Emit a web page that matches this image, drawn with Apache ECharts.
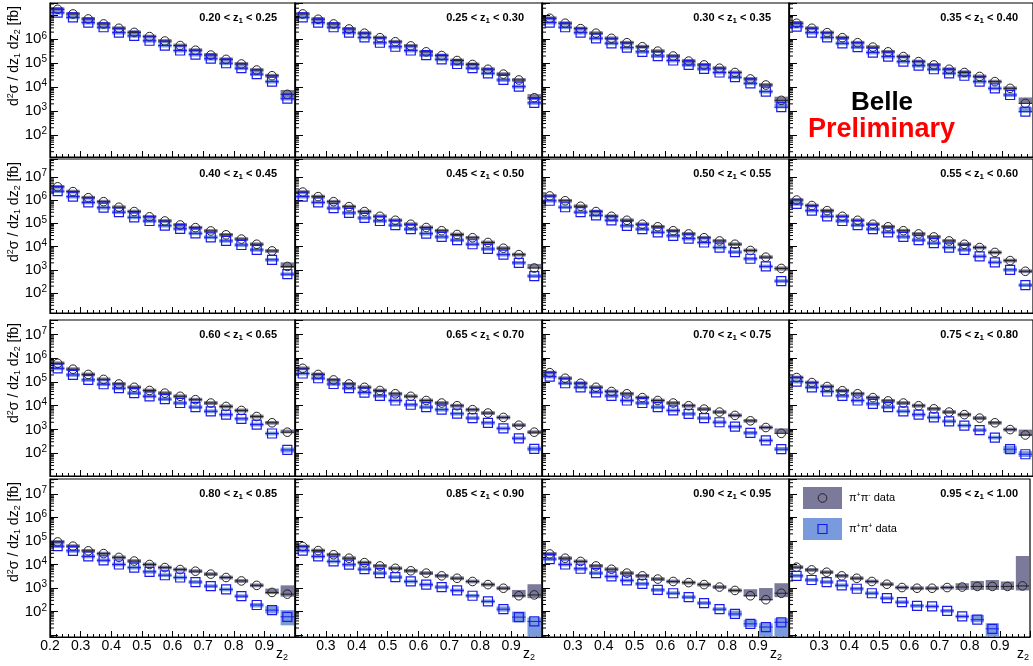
<!DOCTYPE html>
<html>
<head>
<meta charset="utf-8">
<script src="https://cdn.jsdelivr.net/npm/echarts@6/dist/echarts.min.js"></script>
<style>
html, body { margin: 0; padding: 0; background: #fff; }
#chart { width: 1033px; height: 666px; }
</style>
</head>
<body>
<div id="chart"></div>
<script>
// z2 bin centres (bin width 0.05) and the z1 bin edges of the 16 panels
var z2Centers = [0.225, 0.275, 0.325, 0.375, 0.425, 0.475, 0.525, 0.575,
                 0.625, 0.675, 0.725, 0.775, 0.825, 0.875, 0.925, 0.975];
var z1Edges = ['0.20', '0.25', '0.30', '0.35', '0.40', '0.45', '0.50', '0.55', '0.60',
               '0.65', '0.70', '0.75', '0.80', '0.85', '0.90', '0.95', '1.00'];

// pi+ pi- data, one row per z1 bin  [fb]
var pmData = [
    [1.8e7, 1.15e7, 7.1e6, 4.4e6, 2.9e6, 1.95e6, 1.3e6, 8.5e5, 5.5e5, 3.5e5, 2.2e5, 1.45e5, 9.3e4, 5.2e4, 3.0e4, 5.0e3],
    [1.15e7, 6.9e6, 4.4e6, 2.7e6, 1.8e6, 1.17e6, 7.9e5, 5.3e5, 3.0e5, 2.1e5, 1.3e5, 8.9e4, 5.6e4, 3.5e4, 2.0e4, 3.6e3],
    [7.6e6, 4.7e6, 2.8e6, 1.8e6, 1.1e6, 7.2e5, 4.9e5, 3.2e5, 2.0e5, 1.23e5, 8.5e4, 6.2e4, 4.1e4, 2.2e4, 1.23e4, 2.8e3],
    [4.7e6, 2.9e6, 1.9e6, 1.17e6, 7.2e5, 4.7e5, 3.0e5, 1.9e5, 1.17e5, 8.5e4, 5.6e4, 4.1e4, 2.8e4, 1.7e4, 8.9e3, 2.1e3],
    [3.7e6, 2.3e6, 1.26e6, 8.5e5, 4.9e5, 3.2e5, 1.9e5, 1.26e5, 8.5e4, 6.5e4, 4.7e4, 3.2e4, 2.1e4, 1.26e4, 6.5e3, 1.4e3],
    [2.2e6, 1.4e6, 8.5e5, 5.2e5, 3.2e5, 2.0e5, 1.35e5, 9.1e4, 6.6e4, 4.8e4, 3.3e4, 2.4e4, 1.5e4, 8.5e3, 4.5e3, 1.2e3],
    [1.5e6, 9.3e5, 5.4e5, 3.2e5, 2.0e5, 1.35e5, 9.1e4, 7.1e4, 4.8e4, 3.5e4, 2.4e4, 1.75e4, 1.26e4, 6.8e3, 3.5e3, 1.15e3],
    [1.0e6, 5.8e5, 3.5e5, 2.0e5, 1.35e5, 9.1e4, 7.1e4, 4.8e4, 3.5e4, 2.6e4, 1.75e4, 1.26e4, 9.1e3, 5.6e3, 2.5e3, 8.7e2],
    [6.2e5, 3.5e5, 2.1e5, 1.3e5, 8.3e4, 6.0e4, 4.4e4, 3.4e4, 2.5e4, 1.8e4, 1.3e4, 9.3e3, 6.3e3, 3.5e3, 1.9e3, 7.6e2],
    [3.8e5, 2.1e5, 1.23e5, 8.3e4, 6.0e4, 4.4e4, 3.2e4, 2.5e4, 1.66e4, 1.3e4, 1.0e4, 6.8e3, 4.9e3, 3.2e3, 1.5e3, 7.6e2],
    [2.5e5, 1.45e5, 8.9e4, 6.0e4, 4.0e4, 3.2e4, 2.2e4, 1.66e4, 1.3e4, 1.0e4, 7.2e3, 5.4e3, 3.9e3, 2.3e3, 1.2e3, 6.8e2],
    [1.55e5, 9.5e4, 6.5e4, 4.3e4, 3.2e4, 2.2e4, 1.6e4, 1.3e4, 1.0e4, 7.4e3, 5.4e3, 4.2e3, 3.0e3, 1.9e3, 9.8e2, 5.8e2],
    [9.1e4, 6.0e4, 3.8e4, 2.9e4, 2.0e4, 1.4e4, 1.0e4, 7.4e3, 6.1e3, 5.2e3, 3.9e3, 2.8e3, 2.0e3, 1.3e3, 6.5e2, 5.5e2],
    [5.8e4, 3.9e4, 2.6e4, 1.85e4, 1.2e4, 8.7e3, 6.9e3, 5.4e3, 4.3e3, 3.3e3, 2.6e3, 1.9e3, 1.4e3, 9.8e2, 4.7e2, 5.1e2],
    [2.8e4, 1.85e4, 1.35e4, 8.7e3, 6.3e3, 4.3e3, 3.3e3, 2.4e3, 1.9e3, 1.7e3, 1.4e3, 1.1e3, 7.9e2, 4.7e2, 3.2e2, 6.0e2],
    [7.7e3, 5.9e3, 4.7e3, 3.3e3, 2.6e3, 1.9e3, 1.45e3, 1.05e3, 9.8e2, 9.8e2, 1.05e3, 1.1e3, 1.17e3, 1.17e3, 1.17e3, 1.23e3]
];

// pi+ pi+ data
var ppData = [
    [1.3e7, 8.3e6, 5.0e6, 3.2e6, 1.9e6, 1.4e6, 8.7e5, 5.5e5, 3.4e5, 2.3e5, 1.55e5, 1.0e5, 6.2e4, 3.5e4, 1.7e4, 3.3e3],
    [8.3e6, 5.0e6, 3.2e6, 1.9e6, 1.2e6, 7.2e5, 4.9e5, 3.4e5, 2.2e5, 1.45e5, 9.3e4, 6.2e4, 3.8e4, 2.0e4, 1.05e4, 2.2e3],
    [5.0e6, 3.2e6, 1.9e6, 1.1e6, 6.8e5, 4.5e5, 3.0e5, 2.0e5, 1.3e5, 8.5e4, 5.8e4, 4.1e4, 2.6e4, 1.45e4, 6.5e3, 1.45e3],
    [3.4e6, 1.9e6, 1.2e6, 6.8e5, 4.7e5, 2.8e5, 1.9e5, 1.17e5, 7.9e4, 5.6e4, 3.8e4, 3.0e4, 1.7e4, 8.9e3, 4.7e3, 9.5e2],
    [2.4e6, 1.4e6, 7.9e5, 4.7e5, 3.0e5, 1.8e5, 1.26e5, 7.9e4, 5.8e4, 3.7e4, 2.5e4, 1.75e4, 1.17e4, 7.2e3, 2.7e3, 6.5e2],
    [1.4e6, 7.9e5, 4.5e5, 2.8e5, 1.7e5, 1.26e5, 8.3e4, 5.6e4, 3.6e4, 2.6e4, 1.9e4, 1.26e4, 7.9e3, 4.5e3, 2.0e3, 5.4e2],
    [9.3e5, 4.9e5, 3.0e5, 2.2e5, 1.35e5, 7.8e4, 5.6e4, 4.1e4, 2.9e4, 2.2e4, 1.5e4, 9.1e3, 5.8e3, 3.0e3, 1.4e3, 3.3e2],
    [6.8e5, 3.5e5, 2.0e5, 1.26e5, 8.3e4, 5.6e4, 4.1e4, 2.6e4, 1.9e4, 1.4e4, 9.1e3, 7.2e3, 3.8e3, 2.1e3, 1.0e3, 2.2e2],
    [3.8e5, 2.0e5, 1.23e5, 8.1e4, 5.5e4, 3.4e4, 2.5e4, 1.9e4, 1.3e4, 8.7e3, 5.8e3, 4.2e3, 2.8e3, 1.6e3, 6.7e2, 1.35e2],
    [2.3e5, 1.45e5, 8.3e4, 5.5e4, 3.6e4, 2.6e4, 1.66e4, 1.1e4, 8.7e3, 6.8e3, 4.6e3, 3.0e3, 1.9e3, 1.1e3, 4.2e2, 1.5e2],
    [1.7e5, 8.9e4, 6.0e4, 3.7e4, 2.6e4, 1.66e4, 1.3e4, 8.7e3, 6.3e3, 4.5e3, 3.0e3, 2.0e3, 1.3e3, 7.1e2, 3.4e2, 1.45e2],
    [1.05e5, 6.0e4, 4.0e4, 2.6e4, 1.66e4, 1.2e4, 8.7e3, 5.8e3, 4.2e3, 3.2e3, 2.2e3, 1.45e3, 9.3e2, 4.5e2, 1.45e2, 8.9e1],
    [6.0e4, 3.8e4, 2.2e4, 1.5e4, 1.0e4, 7.4e3, 4.9e3, 3.5e3, 2.8e3, 1.8e3, 1.2e3, 8.7e2, 4.5e2, 1.9e2, 1.15e2, 6.0e1],
    [3.9e4, 2.2e4, 1.35e4, 9.8e3, 6.3e3, 4.3e3, 2.9e3, 1.9e3, 1.4e3, 1.1e3, 7.9e2, 4.7e2, 2.7e2, 1.26e2, 5.8e1, 3.8e1],
    [1.7e4, 1.0e4, 6.6e3, 4.3e3, 3.1e3, 2.1e3, 1.5e3, 8.3e2, 6.0e2, 4.1e2, 2.3e2, 1.26e2, 7.9e1, 3.0e1, 2.2e1, 3.5e1],
    [3.3e3, 2.2e3, 1.8e3, 1.3e3, 9.3e2, 6.0e2, 3.7e2, 2.5e2, 1.75e2, 1.65e2, 1.07e2, 6.2e1, 4.5e1, 1.85e1, null, null]
];

// systematic boxes that are clearly bigger than the thin default band: [bin, low, high]
var pmBoxes = [
    [[15, 3.4e3, 7.6e3]], [[15, 2.9e3, 5.1e3]], [[15, 2.2e3, 4.0e3]], [[15, 2.0e3, 3.7e3]],
    [[15, 1.2e3, 2.1e3]], [[15, 1.15e3, 1.8e3]], [[15, 9.3e2, 1.4e3]], [],
    [[15, 6.8e2, 9.8e2]], [], [[15, 6.8e2, 1.1e3]], [[15, 5.2e2, 9.8e2]],
    [[14, 5.5e2, 9.5e2], [15, 4.3e2, 1.3e3]],
    [[14, 4.0e2, 8.3e2], [15, 3.7e2, 1.45e3]],
    [[13, 4.4e2, 8.9e2], [14, 3.0e2, 1.0e3], [15, 4.1e2, 1.6e3]],
    [[11, 8.3e2, 1.6e3], [12, 8.3e2, 2.0e3], [13, 8.3e2, 2.2e3], [14, 8.3e2, 1.9e3], [15, 7.9e2, 2.3e4]]
];
var ppBoxes = [
    [], [], [[15, 1.3e3, 2.1e3]], [[15, 8.5e2, 1.45e3]],
    [], [], [], [],
    [[15, 1.05e2, 1.7e2]], [[15, 1.2e2, 1.9e2]], [[15, 1.2e2, 1.8e2]], [[14, 9.8e1, 2.0e2], [15, 6.8e1, 1.2e2]],
    [[13, 1.5e2, 2.3e2], [14, 8.3e1, 1.7e2], [15, 2.6e1, 1.15e2]],
    [[13, 1.0e2, 1.66e2], [14, 3.5e1, 1.0e2], [15, 8.7, 5.6e1]],
    [[12, 6.2e1, 1.1e2], [13, 2.2e1, 4.5e1], [14, 8.7, 3.2e1], [15, 8.7, 5.2e1]],
    [[12, 3.5e1, 7.2e1], [13, 8.7, 3.2e1]]
];
var sysFrac = 0.2;   // relative size of the thin default systematic band

// pad layout
var colLeft = [50, 295, 542, 789];
var colWidth = [245, 247, 247, 247];
var rowTop = [3, 159, 320, 479];
var rowHeight = [154, 154, 156, 158];
var rowMin = [12, 14, 10.7, 8.3];
var rowMax = [3.3e7, 5.8e7, 4.2e7, 4.3e7];

var halfBin = 0.022;
var FONT = 'Liberation Sans, Arial, Helvetica, sans-serif';
var pmColor = '#222222', ppColor = '#1a1aee';
var pmBoxColor = '#7b7a9a', ppBoxColor = '#7a9ade';

var grids = [], xAxes = [], yAxes = [], series = [], graphics = [];

function boxData(values, boxes) {
    var out = [];
    values.forEach(function (v, i) {
        if (v == null) return;
        var lo = v / (1 + sysFrac), hi = v * (1 + sysFrac);
        boxes.forEach(function (b) { if (b[0] === i) { lo = b[1]; hi = b[2]; } });
        out.push([z2Centers[i], lo, hi]);
    });
    return out;
}

function pointData(values) {
    var out = [];
    values.forEach(function (v, i) { if (v != null) out.push([z2Centers[i], v]); });
    return out;
}

function boxSeries(gi, data, color) {
    return {
        type: 'custom', xAxisIndex: gi, yAxisIndex: gi, z: 2, silent: true, clip: true,
        data: data,
        renderItem: function (params, api) {
            var x = api.value(0);
            var a = api.coord([x - halfBin, api.value(2)]);
            var b = api.coord([x + halfBin, api.value(1)]);
            return {
                type: 'rect',
                shape: { x: a[0], y: a[1], width: b[0] - a[0], height: Math.max(b[1] - a[1], 1) },
                style: { fill: color }
            };
        }
    };
}

function markerSeries(gi, data, kind) {
    var color = kind === 'pm' ? pmColor : ppColor;
    return {
        type: 'custom', xAxisIndex: gi, yAxisIndex: gi, z: 3, silent: true, clip: true,
        data: data,
        renderItem: function (params, api) {
            var x = api.value(0), y = api.value(1);
            var p = api.coord([x, y]);
            var pl = api.coord([x - halfBin, y]);
            var pr = api.coord([x + halfBin, y]);
            var marker;
            if (kind === 'pm') {
                marker = { type: 'circle', shape: { cx: p[0], cy: p[1], r: 4.3 },
                    style: { fill: 'none', stroke: color, lineWidth: 1 } };
            } else {
                marker = { type: 'rect', shape: { x: p[0] - 4.5, y: p[1] - 4.5, width: 9, height: 9 },
                    style: { fill: 'none', stroke: color, lineWidth: 1.2 } };
            }
            return {
                type: 'group',
                children: [
                    { type: 'line', shape: { x1: pl[0], y1: p[1], x2: pr[0], y2: p[1] },
                      style: { stroke: color, lineWidth: 1 } },
                    marker
                ]
            };
        }
    };
}

// log minor ticks (2..9 x 10^n) on the left axis
function minorTickSeries(gi, r) {
    var vals = [];
    for (var e = 0; e < 8; e++) {
        for (var m = 2; m <= 9; m++) {
            var v = m * Math.pow(10, e);
            if (v > rowMin[r] && v < rowMax[r]) vals.push([0.2, v]);
        }
    }
    return {
        type: 'custom', xAxisIndex: gi, yAxisIndex: gi, z: 4, silent: true,
        data: vals,
        renderItem: function (params, api) {
            var p = api.coord([api.value(0), api.value(1)]);
            return { type: 'line', shape: { x1: p[0], y1: p[1], x2: p[0] + 4, y2: p[1] },
                     style: { stroke: '#000', lineWidth: 1 } };
        }
    };
}

function makePanel(i) {
    var r = Math.floor(i / 4), c = i % 4;
    grids.push({
        left: colLeft[c], top: rowTop[r], width: colWidth[c], height: rowHeight[r],
        show: true, borderColor: '#000', borderWidth: 1.2, backgroundColor: '#fff'
    });
    xAxes.push({
        gridIndex: i, type: 'value', min: 0.2, max: 1.0, interval: 0.1,
        axisLine: { show: true, onZero: false, lineStyle: { color: '#000', width: 1.2 } },
        axisTick: { show: true, inside: true, length: 6, lineStyle: { color: '#000' } },
        minorTick: { show: true, splitNumber: 5, length: 3, lineStyle: { color: '#000' } },
        splitLine: { show: false },
        axisLabel: {
            show: r === 3, margin: 2, fontSize: 14, color: '#000', fontFamily: FONT,
            formatter: function (v) {
                if (v > 0.95) return '';
                if (c > 0 && v < 0.25) return '';
                return v.toFixed(1);
            }
        }
    });
    yAxes.push({
        gridIndex: i, type: 'log', logBase: 10, min: rowMin[r], max: rowMax[r],
        axisLine: { show: true, lineStyle: { color: '#000', width: 1.2 } },
        axisTick: { show: true, inside: true, length: 8, lineStyle: { color: '#000' } },
        splitLine: { show: false },
        axisLabel: {
            show: c === 0, margin: 3, color: '#000', fontFamily: FONT,
            formatter: function (v) {
                var lg = Math.log10(v), e = Math.round(lg);
                if (Math.abs(lg - e) > 1e-6) return '';
                if (e < 2) return '';
                if (r === 0 && e > 6) return '';
                return '{b|10}{s|' + e + '}';
            },
            rich: {
                b: { fontSize: 15, lineHeight: 17, fontFamily: FONT, color: '#000' },
                s: { fontSize: 10, lineHeight: 10, verticalAlign: 'top', fontFamily: FONT, color: '#000' }
            }
        }
    });

    series.push(boxSeries(i, boxData(pmData[i], pmBoxes[i]), pmBoxColor));
    series.push(boxSeries(i, boxData(ppData[i], ppBoxes[i]), ppBoxColor));
    series.push(markerSeries(i, pointData(pmData[i]), 'pm'));
    series.push(markerSeries(i, pointData(ppData[i]), 'pp'));
    series.push(minorTickSeries(i, r));

    // z1 bin label
    graphics.push({
        type: 'text', z: 100,
        x: colLeft[c] + colWidth[c] - 18, y: rowTop[r] + 15,
        style: {
            text: '{b|' + z1Edges[i] + ' < z}{s|1}{b| < ' + z1Edges[i + 1] + '}',
            rich: {
                b: { fontSize: 11, fontWeight: 'bold', lineHeight: 13, fontFamily: FONT, fill: '#000' },
                s: { fontSize: 8, fontWeight: 'bold', lineHeight: 8, verticalAlign: 'bottom', fontFamily: FONT, fill: '#000' }
            },
            align: 'right', verticalAlign: 'middle', textAlign: 'right', textVerticalAlign: 'middle'
        }
    });
}

for (var i = 0; i < 16; i++) makePanel(i);

// y-axis titles, one per row
var ttlRich = {
    n: { fontSize: 14, lineHeight: 16, fontFamily: FONT, fill: '#000' },
    sup: { fontSize: 9, lineHeight: 9, verticalAlign: 'top', fontFamily: FONT, fill: '#000' },
    sub: { fontSize: 9, lineHeight: 9, verticalAlign: 'bottom', fontFamily: FONT, fill: '#000' }
};
rowTop.forEach(function (t) {
    graphics.push({
        type: 'text', z: 100, x: 14, y: t + 3, rotation: Math.PI / 2,
        style: {
            text: '{n|d}{sup|2}{n|\u03c3 / dz}{sub|1}{n| dz}{sub|2}{n| [fb]}',
            rich: ttlRich,
            align: 'right', verticalAlign: 'middle', textAlign: 'right', textVerticalAlign: 'middle'
        }
    });
});

// x-axis titles under each bottom pad
colLeft.forEach(function (l, c) {
    graphics.push({
        type: 'text', z: 100, x: l + colWidth[c] - 7, y: 654,
        style: {
            text: '{n|z}{sub|2}', rich: ttlRich,
            align: 'right', verticalAlign: 'middle', textAlign: 'right', textVerticalAlign: 'middle'
        }
    });
});

// Belle Preliminary
graphics.push({
    type: 'text', z: 100, x: 882, y: 103,
    style: { text: 'Belle', font: 'bold 26px ' + FONT, fill: '#000',
             align: 'center', verticalAlign: 'middle', textAlign: 'center', textVerticalAlign: 'middle' }
});
graphics.push({
    type: 'text', z: 100, x: 808, y: 130,
    style: { text: 'Preliminary', font: 'bold 27px ' + FONT, fill: '#ff0000',
             align: 'left', verticalAlign: 'middle', textAlign: 'left', textVerticalAlign: 'middle' }
});

// legend in the last pad
var legRich = {
    n: { fontSize: 11, lineHeight: 13, fontFamily: FONT, fill: '#000' },
    s: { fontSize: 7, lineHeight: 7, verticalAlign: 'top', fontFamily: FONT, fill: '#000' }
};
graphics.push(
    { type: 'rect', z: 100, shape: { x: 803, y: 487, width: 39, height: 22 }, style: { fill: pmBoxColor } },
    { type: 'circle', z: 101, shape: { cx: 822.5, cy: 498, r: 4.3 }, style: { fill: 'none', stroke: pmColor, lineWidth: 1 } },
    { type: 'rect', z: 100, shape: { x: 803, y: 518, width: 39, height: 22 }, style: { fill: ppBoxColor } },
    { type: 'rect', z: 101, shape: { x: 818, y: 524.5, width: 9, height: 9 }, style: { fill: 'none', stroke: ppColor, lineWidth: 1.2 } },
    { type: 'text', z: 100, x: 849, y: 498,
      style: { text: '{n|\u03c0}{s|+}{n|\u03c0}{s|-}{n| data}', rich: legRich,
               align: 'left', verticalAlign: 'middle', textAlign: 'left', textVerticalAlign: 'middle' } },
    { type: 'text', z: 100, x: 849, y: 529,
      style: { text: '{n|\u03c0}{s|+}{n|\u03c0}{s|+}{n| data}', rich: legRich,
               align: 'left', verticalAlign: 'middle', textAlign: 'left', textVerticalAlign: 'middle' } }
);

var chart = echarts.init(document.getElementById('chart'), null, { renderer: 'canvas' });
chart.setOption({
    animation: false,
    backgroundColor: '#fff',
    textStyle: { fontFamily: FONT },
    grid: grids,
    xAxis: xAxes,
    yAxis: yAxes,
    series: series,
    graphic: { elements: graphics }
});
</script>
</body>
</html>
